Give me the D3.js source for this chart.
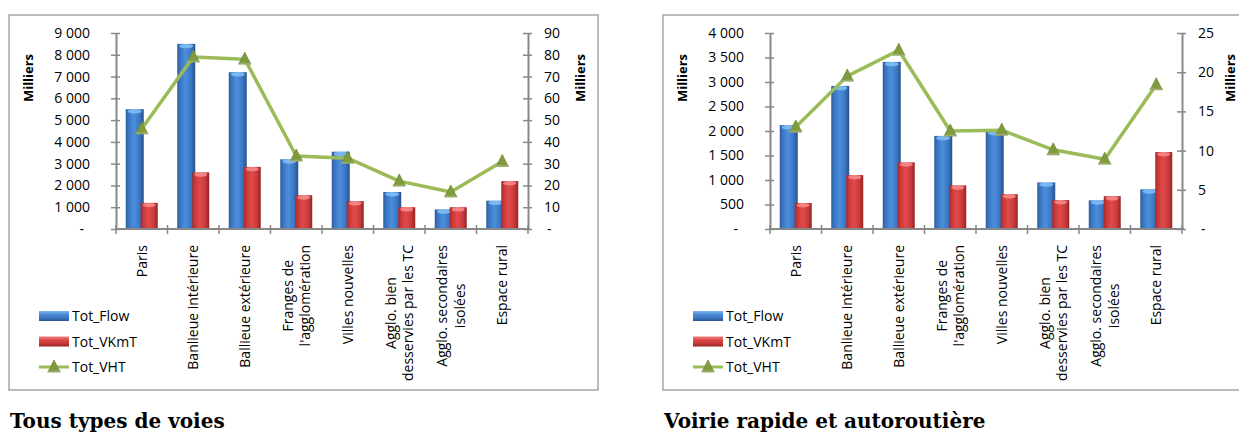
<!DOCTYPE html>
<html><head><meta charset="utf-8">
<script src="https://cdn.jsdelivr.net/npm/d3@7"></script>
<style>
body{margin:0;background:#fff}
svg{display:block}
text{font-family:"Open Sans",sans-serif;fill:#000}
</style>
</head><body>
<svg id="c" width="1239" height="432"></svg>
<script>
// ---------- DATA ----------
const categories = [
  ["Paris"],
  ["Banlieue intérieure"],
  ["Ballieue extérieure"],
  ["Franges de", "l'agglomération"],
  ["Villes nouvelles"],
  ["Agglo. bien", "desservies par les TC"],
  ["Agglo. secondaires", "isolées"],
  ["Espace rural"]
];
const seriesNames = ["Tot_Flow", "Tot_VKmT", "Tot_VHT"];
const axisTitle = "Milliers";
const titles = ["Tous types de voies", "Voirie rapide et autoroutière"];

// Chart 1 : Tous types de voies (milliers)
const tousFlow = [5500, 8500, 7200, 3200, 3550, 1700, 900, 1300];
const tousVKmT = [1200, 2600, 2850, 1550, 1280, 1000, 1000, 2200];
const tousVHT  = [46, 79, 78, 33.5, 32.5, 22, 17, 31];
const tousLeftTicks  = [0, 1000, 2000, 3000, 4000, 5000, 6000, 7000, 8000, 9000];
const tousRightTicks = [0, 10, 20, 30, 40, 50, 60, 70, 80, 90];

// Chart 2 : Voirie rapide et autoroutière (milliers)
const rapideFlow = [2120, 2920, 3410, 1900, 2000, 950, 585, 810];
const rapideVKmT = [530, 1100, 1360, 890, 710, 590, 670, 1570];
const rapideVHT  = [13, 19.5, 22.8, 12.5, 12.6, 10.1, 8.9, 18.4];
const rapideLeftTicks  = [0, 500, 1000, 1500, 2000, 2500, 3000, 3500, 4000];
const rapideRightTicks = [0, 5, 10, 15, 20, 25];

// ---------- DRAW ----------
const svg = d3.select("#c");
const locale = d3.formatLocale({decimal: ",", thousands: "\u00a0", grouping: [3], currency: ["", ""]});
const fmt = locale.format(",d");
const tickFmt = d => d === 0 ? "-" : fmt(d);

const defs = svg.append("defs");
function hGrad(id, stops) {
  const g = defs.append("linearGradient").attr("id", id).attr("x1", 0).attr("x2", 1).attr("y1", 0).attr("y2", 0);
  stops.forEach(s => g.append("stop").attr("offset", s[0]).attr("stop-color", s[1]));
}
function vGrad(id, stops) {
  const g = defs.append("linearGradient").attr("id", id).attr("x1", 0).attr("x2", 0).attr("y1", 0).attr("y2", 1);
  stops.forEach(s => g.append("stop").attr("offset", s[0]).attr("stop-color", s[1]));
}
hGrad("gBlue", [[0, "#2c5b9c"], [0.15, "#3a74c0"], [0.45, "#4b8fdc"], [0.75, "#3c78c6"], [1, "#28528f"]]);
hGrad("gRed", [[0, "#a52a2a"], [0.15, "#c83838"], [0.45, "#e04a4a"], [0.75, "#cc3c3c"], [1, "#962424"]]);
vGrad("lBlue", [[0, "#7db6f0"], [0.35, "#4a8ad6"], [0.75, "#3a70b8"], [1, "#2a5590"]]);
vGrad("lRed", [[0, "#f08080"], [0.35, "#dd4848"], [0.75, "#c03535"], [1, "#8f2222"]]);

const GREEN = "#9bbb59";
const AXIS = "#888888";

function marker(g, cx, cy) {
  g.append("path")
    .attr("d", `M${cx},${cy - 7} L${cx + 5.5},${cy + 4} L${cx - 5.5},${cy + 4} Z`)
    .attr("fill", "#7e9c3e").attr("stroke", "#6f8a36").attr("stroke-width", 0.8);
  g.append("rect").attr("x", cx - 6.5).attr("y", cy + 3.5).attr("width", 13).attr("height", 2)
    .attr("fill", "#9aab6a");
}

function drawChart(ox, flow, vkmt, vht, lTicks, rTicks, title) {
  const g = svg.append("g");
  const x0 = ox + 116, x1 = ox + 528, yTop = 33, yBot = 229;

  // frame
  g.append("rect").attr("x", ox + 9).attr("y", 15).attr("width", 589).attr("height", 375)
    .attr("fill", "none").attr("stroke", "#a6a6a6").attr("stroke-width", 1.5);

  const x = d3.scaleBand().domain(d3.range(categories.length)).range([x0, x1]).padding(0);
  const bw = x.bandwidth();
  const yL = d3.scaleLinear().domain([0, d3.max(lTicks)]).range([yBot, yTop]);
  const yR = d3.scaleLinear().domain([0, d3.max(rTicks)]).range([yBot, yTop]);

  // left axis
  const la = g.append("g").attr("transform", `translate(${x0},0)`)
    .call(d3.axisLeft(yL).tickValues(lTicks).tickFormat(tickFmt).tickSize(5).tickSizeOuter(0).tickPadding(21));
  la.select(".domain").attr("stroke", AXIS).attr("stroke-width", 2);
  la.selectAll(".tick line").attr("x1", 4).attr("stroke", AXIS).attr("stroke-width", 1.5);
  la.selectAll(".tick text").attr("font-size", 14).attr("font-family", "Open Sans")
    .attr("dx", d => d === 0 ? -6 : 0);

  // right axis
  const ra = g.append("g").attr("transform", `translate(${x1},0)`)
    .call(d3.axisRight(yR).tickValues(rTicks).tickFormat(tickFmt).tickSize(4).tickSizeOuter(0).tickPadding(12));
  ra.select(".domain").attr("stroke", AXIS).attr("stroke-width", 2);
  ra.selectAll(".tick line").attr("x1", -5).attr("stroke", AXIS).attr("stroke-width", 1.5);
  ra.selectAll(".tick text").attr("font-size", 14).attr("font-family", "Open Sans")
    .attr("dx", d => d === 0 ? 3 : 0);

  // bars
  const bars = g.append("g");
  categories.forEach((c, i) => {
    const cx = x(i) + bw / 2;
    [[flow[i], -16, 18, "gBlue", "#80bdf5"], [vkmt[i], -1, 17, "gRed", "#f58a8a"]].forEach(b => {
      const yv = yL(b[0]);
      bars.append("rect").attr("x", cx + b[1]).attr("y", yv).attr("width", b[2]).attr("height", yBot - yv)
        .attr("fill", `url(#${b[3]})`);
      bars.append("ellipse").attr("cx", cx + b[1] + b[2] / 2).attr("cy", yv + 2.2)
        .attr("rx", b[2] / 2 - 2).attr("ry", 2.2).attr("fill", b[4]).attr("opacity", 0.9);
    });
  });

  // x axis
  g.append("line").attr("x1", x0).attr("x2", x1 + 2).attr("y1", yBot).attr("y2", yBot)
    .attr("stroke", AXIS).attr("stroke-width", 2);
  const bounds = d3.range(categories.length + 1).map(i => i < categories.length ? x(i) : x1);
  g.selectAll(null).data(bounds).enter().append("line")
    .attr("x1", d => d).attr("x2", d => d).attr("y1", yBot - 4).attr("y2", yBot + 5)
    .attr("stroke", AXIS).attr("stroke-width", 1.5);

  // line series
  const line = d3.line().x((d, i) => x(i) + bw / 2).y(d => yR(d));
  g.append("path").datum(vht).attr("d", line).attr("fill", "none")
    .attr("stroke", GREEN).attr("stroke-width", 3.5).attr("stroke-linejoin", "round");
  const mg = g.append("g");
  vht.forEach((v, i) => marker(mg, x(i) + bw / 2, yR(v)));

  // category labels
  const lh = 17.5;
  categories.forEach((lines, i) => {
    const cx = x(i) + bw / 2;
    const tg = g.append("g");
    const texts = lines.map(t => tg.append("text").attr("font-size", 14).attr("text-anchor", "middle").text(t));
    const L = d3.max(texts, t => t.node().getComputedTextLength());
    tg.attr("transform", `translate(${cx},${245 + L / 2}) rotate(-90)`);
    texts.forEach((t, k) => t.attr("x", 0).attr("y", (k - (lines.length - 1) / 2) * lh).attr("dy", "0.36em"));
  });

  // axis titles
  [ox + 28, Math.min(ox + 580, 1230)].forEach(px => {
    g.append("text").attr("transform", `translate(${px},78) rotate(-90)`)
      .attr("text-anchor", "middle").attr("dy", "0.36em")
      .attr("font-size", 13).attr("font-weight", "bold").text(axisTitle);
  });

  // legend
  const lx = ox + 39, lw = 30;
  const ly = [316, 341.5, 367];
  g.append("rect").attr("x", lx).attr("y", ly[0] - 5).attr("width", lw).attr("height", 10).attr("fill", "url(#lBlue)");
  g.append("rect").attr("x", lx).attr("y", ly[1] - 5).attr("width", lw).attr("height", 10).attr("fill", "url(#lRed)");
  g.append("line").attr("x1", lx).attr("x2", lx + lw).attr("y1", ly[2]).attr("y2", ly[2])
    .attr("stroke", GREEN).attr("stroke-width", 3);
  marker(g, lx + lw / 2, ly[2]);
  seriesNames.forEach((n, k) => {
    g.append("text").attr("x", ox + 72).attr("y", ly[k]).attr("dy", "0.36em").attr("font-size", 14).text(n);
  });

  // title
  g.append("text").attr("x", ox + 10).attr("y", 428)
    .attr("font-weight", "bold").attr("font-size", 20)
    .style("font-family", "'DejaVu Serif', serif").text(title);
}

drawChart(0, tousFlow, tousVKmT, tousVHT, tousLeftTicks, tousRightTicks, titles[0]);
drawChart(654, rapideFlow, rapideVKmT, rapideVHT, rapideLeftTicks, rapideRightTicks, titles[1]);
</script>
</body></html>
